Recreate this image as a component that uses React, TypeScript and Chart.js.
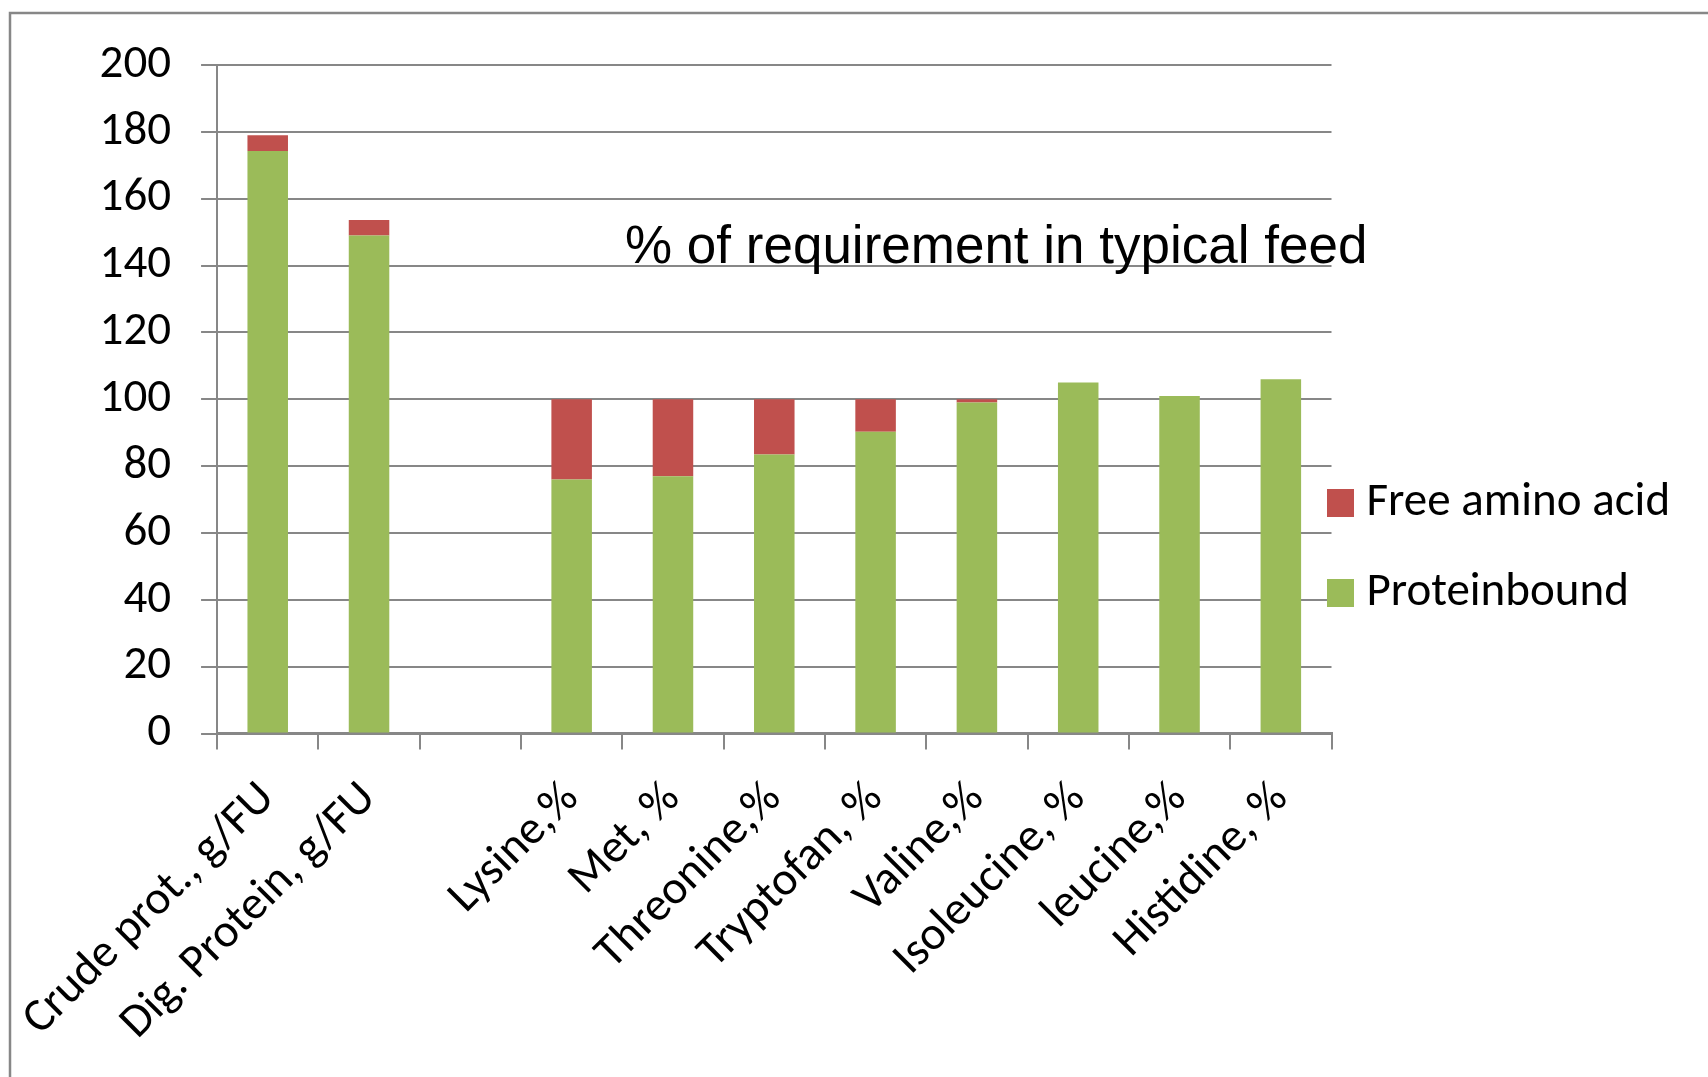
import React, { useEffect, useRef } from "react";
import { Chart, registerables } from "chart.js";

Chart.register(...registerables);

// Feed composition, per category
const categories = [
  "Crude prot., g/FU",
  "Dig. Protein, g/FU",
  "",
  "Lysine,%",
  "Met, %",
  "Threonine,%",
  "Tryptofan, %",
  "Valine,%",
  "Isoleucine, %",
  "leucine,%",
  "Histidine, %",
];
const proteinbound = [174.3, 149, null, 76, 77, 83.5, 90.3, 99, 105, 101, 106];
const freeAminoAcid = [4.7, 4.6, null, 24, 23, 16.5, 9.7, 1, 0, 0, 0];

const yTicks = [0, 20, 40, 60, 80, 100, 120, 140, 160, 180, 200];
const seriesNames = ["Proteinbound", "Free amino acid"];
const seriesColors = ["#9BBB59", "#C0504D"];
const noteText = "% of requirement in typical feed";

const W = 1708;
const H = 1077;
const GRID = "#878787";
const SANS = "Carlito, Lato, 'Open Sans', sans-serif";
const LABEL_SIZE = 47;

const decorations = {
  id: "decorations",
  afterDraw(chart: any) {
    const ctx = chart.ctx as CanvasRenderingContext2D;
    const area = chart.chartArea;
    ctx.save();

    // outer frame
    ctx.strokeStyle = GRID;
    ctx.lineWidth = 2.5;
    ctx.strokeRect(10, 13, W * 2, H * 2);

    // note inside the plot
    ctx.fillStyle = "#000";
    ctx.font = "53px 'Liberation Sans', Arial, sans-serif";
    ctx.textAlign = "left";
    ctx.textBaseline = "alphabetic";
    ctx.fillText(noteText, 625, 263);

    // legend, topmost series first
    const items = chart.data.datasets
      .map((d: any) => ({ label: d.label, color: d.backgroundColor }))
      .reverse();
    ctx.font = `${LABEL_SIZE}px ${SANS}`;
    ctx.textBaseline = "middle";
    items.forEach((it: any, i: number) => {
      const y = 489 + i * 90;
      ctx.fillStyle = it.color;
      ctx.fillRect(area.right - 4.5, y, 27, 28);
      ctx.fillStyle = "#000";
      ctx.fillText(it.label, area.right + 35, y + 14);
    });
    ctx.restore();
  },
};

export default function App() {
  const ref = useRef<HTMLCanvasElement | null>(null);

  useEffect(() => {
    if (!ref.current) return;
    const chart = new Chart(ref.current, {
      type: "bar",
      data: {
        labels: categories,
        datasets: [
          {
            label: seriesNames[0],
            data: proteinbound,
            backgroundColor: seriesColors[0],
            borderWidth: 0,
          },
          {
            label: seriesNames[1],
            data: freeAminoAcid,
            backgroundColor: seriesColors[1],
            borderWidth: 0,
          },
        ],
      },
      options: {
        responsive: false,
        animation: false,
        devicePixelRatio: 1,
        layout: { padding: { left: 0, top: 65, right: W - 1331.5, bottom: 0 } },
        datasets: { bar: { categoryPercentage: 1, barPercentage: 0.4 } },
        plugins: {
          legend: { display: false },
          tooltip: { enabled: false },
        },
        scales: {
          x: {
            stacked: true,
            grid: {
              offset: true,
              drawOnChartArea: false,
              drawTicks: true,
              tickLength: 16,
              color: GRID,
              lineWidth: 2,
            },
            border: { color: GRID, width: 3 },
            ticks: {
              autoSkip: false,
              minRotation: 45,
              maxRotation: 45,
              padding: 22,
              color: "#000",
              font: { family: SANS, size: LABEL_SIZE },
            },
            afterFit: (scale: any) => {
              scale.height = H - 733.5;
            },
          },
          y: {
            stacked: true,
            min: 0,
            max: 200,
            afterBuildTicks: (scale: any) => {
              scale.ticks = yTicks.map((v) => ({ value: v }));
            },
            grid: {
              drawTicks: true,
              tickLength: 16,
              color: GRID,
              lineWidth: 2,
            },
            border: { color: GRID, width: 2 },
            ticks: {
              padding: 30,
              color: "#000",
              font: { family: SANS, size: LABEL_SIZE },
            },
            afterFit: (scale: any) => {
              scale.width = 216;
            },
          },
        },
      },
      plugins: [decorations],
    });
    return () => chart.destroy();
  }, []);

  return (
    <div style={{ position: "absolute", left: 0, top: 0, width: W, height: H, background: "#fff" }}>
      <canvas ref={ref} width={W} height={H} />
    </div>
  );
}
